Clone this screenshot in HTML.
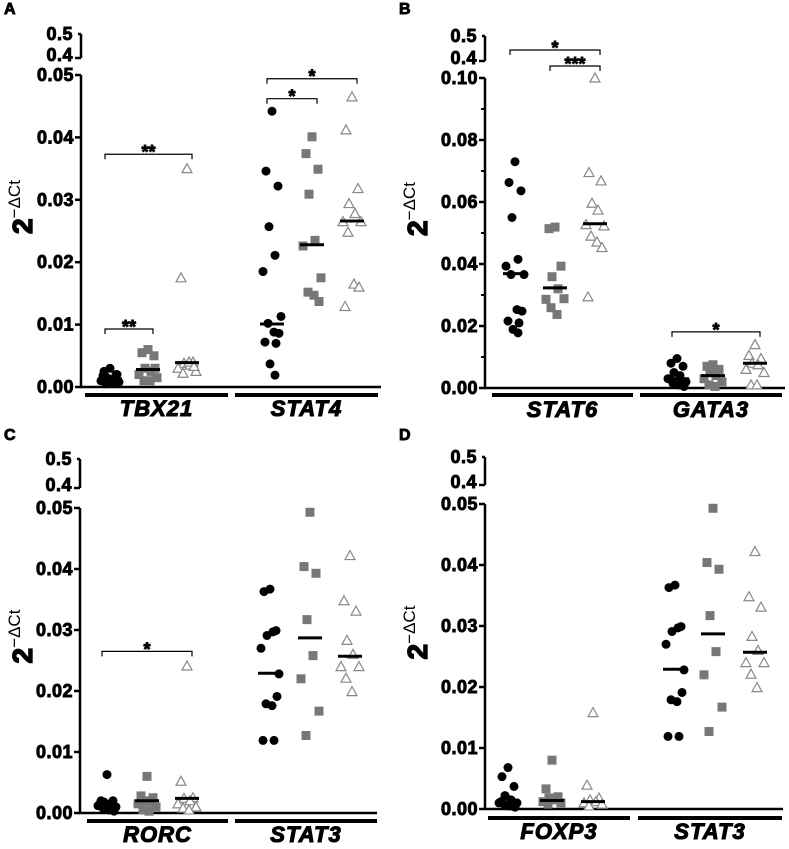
<!DOCTYPE html>
<html><head><meta charset="utf-8"><style>
html,body{margin:0;padding:0;background:#fff;}
svg{display:block;}
svg text{font-family:"Liberation Sans",Arial,sans-serif;}
</style></head><body>
<svg id="fig" width="789" height="849" viewBox="0 0 789 849" xmlns="http://www.w3.org/2000/svg"></svg>
<script>
// ---- data ----
const panelLetters = ['A','B','C','D'];
const genesA = ['TBX21','STAT4'];
const genesB = ['STAT6','GATA3'];
const genesC = ['RORC','STAT3'];
const genesD = ['FOXP3','STAT3'];
const ticksSmall = [0,0.01,0.02,0.03,0.04,0.05];
const ticksLabelsSmall = ['0.00','0.01','0.02','0.03','0.04','0.05'];
const ticksBig = [0,0.02,0.04,0.06,0.08,0.10];
const ticksLabelsBig = ['0.00','0.02','0.04','0.06','0.08','0.10'];
const breakTicks = [0.4,0.5];
const breakLabels = ['0.4','0.5'];

const tbx21Circ = [0.003,0.0025,0.002,0.0015,0.001,0.001,0.0008,0.0005,0.0012,0.002,0.0018,0.0006];
const tbx21Sq = [0.006,0.0055,0.005,0.003,0.0025,0.002,0.0015,0.001,0.001,0.003];
const tbx21Tri = [0.035,0.0175,0.004,0.0038,0.0035,0.003,0.0025,0.0022,0.004,0.0033];
const tbx21Med = [0.0013,0.0028,0.0039];
const stat4Circ = [0.0442,0.0346,0.0322,0.0257,0.0211,0.0185,0.0113,0.0102,0.0088,0.0086,0.0072,0.007,0.0037,0.0019];
const stat4Sq = [0.0401,0.0374,0.0349,0.0309,0.0235,0.0226,0.0175,0.0152,0.0147,0.0137];
const stat4Tri = [0.0465,0.0412,0.0318,0.0294,0.0278,0.0265,0.0265,0.0248,0.0165,0.016,0.0129];
const stat4Med = [0.0101,0.0228,0.0266];

const stat6Circ = [0.073,0.0663,0.0636,0.055,0.0415,0.0393,0.0366,0.0366,0.0253,0.0248,0.0216,0.021,0.0189,0.0178];
const stat6Sq = [0.0519,0.0514,0.0393,0.0359,0.032,0.0286,0.0288,0.0259,0.0237];
const stat6Tri = [0.1,0.0695,0.0668,0.0596,0.0574,0.0527,0.0523,0.049,0.0471,0.0453,0.0294];
const stat6Med = [0.0369,0.0323,0.053];
const gata3Circ = [0.0095,0.008,0.007,0.005,0.004,0.003,0.002,0.0015,0.001,0.0005,0.003,0.002];
const gata3Sq = [0.0075,0.007,0.006,0.005,0.004,0.003,0.002,0.001,0.0005];
const gata3Tri = [0.014,0.0105,0.0095,0.008,0.0075,0.006,0.005,0.001,0.001];
const gata3Med = [0.003,0.004,0.008];

const rorcCirc = [0.0063,0.002,0.002,0.0018,0.0015,0.0012,0.001,0.0008,0.0005,0.0003,0.0015];
const rorcSq = [0.006,0.0028,0.0025,0.002,0.0018,0.0015,0.001,0.0005,0.0003];
const rorcTri = [0.0241,0.0052,0.0025,0.0024,0.002,0.0015,0.001,0.0008,0.0005];
const rorcMed = [0.0013,0.002,0.0024];
const stat3Circ = [0.0367,0.0363,0.0299,0.0291,0.0297,0.027,0.0228,0.0179,0.0176,0.0191,0.0119,0.0119];
const stat3Sq = [0.0493,0.0404,0.0393,0.0317,0.0258,0.022,0.0167,0.0127];
const stat3Tri = [0.0422,0.0348,0.0331,0.0283,0.026,0.024,0.024,0.0221,0.0199];
const stat3Med = [0.0229,0.0287,0.0257];

const foxp3Circ = [0.0068,0.0053,0.0037,0.0022,0.0015,0.001,0.001,0.0008,0.0005,0.0003,0.0012];
const foxp3Sq = [0.008,0.0033,0.002,0.0018,0.0015,0.0012,0.001,0.0008];
const foxp3Tri = [0.0158,0.0039,0.0018,0.0015,0.0012,0.001,0.0008,0.0005];
const foxp3Med = [0.001,0.0014,0.0012];

// brackets: [groupIndex, fromSeries, toSeries, value, label]
const bracketsA = [[0,0,2,0.0373,'**'],[0,0,1,0.0093,'**'],[1,0,1,0.0462,'*'],[1,0,2,0.0494,'*']];
const bracketsB = [[0,0,2,0.444,'*'],[0,1,2,0.38,'***'],[1,0,2,0.0181,'*']];
const bracketsC = [[0,0,2,0.0265,'*']];
const bracketsD = [];

// ---- layout ----
const panels = [
 {letter:panelLetters[0],lx:4,ly:14,ax:81,y0:387,yTop:75,max:0.05,y04:58,y05:34,xEnd:381,barY:395,labY:416,
  ticks:ticksSmall,tickLabels:ticksLabelsSmall,minor:false,genes:genesA,
  bars:[[85,228],[235,378]],cx:[[110,148,187],[272,312,352]],
  series:[[tbx21Circ,tbx21Sq,tbx21Tri],[stat4Circ,stat4Sq,stat4Tri]],meds:[tbx21Med,stat4Med],brackets:bracketsA},
 {letter:panelLetters[1],lx:399,ly:14,ax:485,y0:388,yTop:78,max:0.1,y04:61,y05:36,xEnd:785,barY:395,labY:417,
  ticks:ticksBig,tickLabels:ticksLabelsBig,minor:true,genes:genesB,
  bars:[[492,633],[640,782]],cx:[[515,555,595],[677,713,755]],
  series:[[stat6Circ,stat6Sq,stat6Tri],[gata3Circ,gata3Sq,gata3Tri]],meds:[stat6Med,gata3Med],brackets:bracketsB},
 {letter:panelLetters[2],lx:4,ly:440,ax:80,y0:813,yTop:508,max:0.05,y04:488,y05:459,xEnd:377,barY:821,labY:842,
  ticks:ticksSmall,tickLabels:ticksLabelsSmall,minor:false,genes:genesC,
  bars:[[87,228],[235,377]],cx:[[107,147,187],[270,310,350]],
  series:[[rorcCirc,rorcSq,rorcTri],[stat3Circ,stat3Sq,stat3Tri]],meds:[rorcMed,stat3Med],brackets:bracketsC},
 {letter:panelLetters[3],lx:399,ly:440,ax:485,y0:809,yTop:504,max:0.05,y04:485,y05:457,xEnd:783,barY:818,labY:839,
  ticks:ticksSmall,tickLabels:ticksLabelsSmall,minor:false,genes:genesD,
  bars:[[488,630],[638,782]],cx:[[508,552,593],[675,713,755]],
  series:[[foxp3Circ,foxp3Sq,foxp3Tri],[stat3Circ,stat3Sq,stat3Tri]],meds:[foxp3Med,stat3Med],brackets:bracketsD}
];

const NS='http://www.w3.org/2000/svg';
const svg=document.getElementById('fig');
function mk(tag,attrs,parent){const e=document.createElementNS(NS,tag);for(const k in attrs)e.setAttribute(k,attrs[k]);(parent||svg).appendChild(e);return e;}
const jitter=[0,-6,6,-3,3,-9,9,-4,2,7,-7,4,-2,3];
const FB='font-family:"Liberation Sans",Arial,sans-serif;font-weight:700;stroke:#000;stroke-width:0.9px;';

panels.forEach((p,pi)=>{
  const g=mk('g',{});
  
  
  const yScale=v=> v>0.3 ? p.y04-(v-0.4)/0.1*(p.y04-p.y05) : p.y0-(v/p.max)*(p.y0-p.yTop);
  const t=mk('text',{x:p.lx,y:p.ly,style:FB+'font-size:16px'},g);t.textContent=p.letter;
  
  
  const ya=mk('g',{},g);
  
  
  mk('line',{x1:p.ax,y1:p.y0+1,x2:p.ax,y2:p.yTop,stroke:'#000','stroke-width':2.5},ya);
  mk('line',{x1:p.ax,y1:p.y04,x2:p.ax,y2:p.y05,stroke:'#000','stroke-width':2.5},ya);
  p.ticks.forEach((v,i)=>{
    const y=yScale(v);
    mk('line',{x1:p.ax-6,y1:y,x2:p.ax,y2:y,stroke:'#000','stroke-width':2.5},ya);
    const tl=mk('text',{x:p.ax-7,y:y+6,'text-anchor':'end',style:FB+'font-size:18px;letter-spacing:0.5px'},ya);
    tl.textContent=p.tickLabels[i];
    
    
  });
  if(p.minor){for(let k=1;k<p.ticks.length;k++){const v=(p.ticks[k]+p.ticks[k-1])/2;const y=yScale(v);mk('line',{x1:p.ax-4,y1:y,x2:p.ax,y2:y,stroke:'#000','stroke-width':2},ya);}}
  breakTicks.forEach((v,i)=>{
    const y=yScale(v);
    mk('line',{x1:p.ax-(i==0?6:3),y1:y,x2:p.ax,y2:y,stroke:'#000','stroke-width':2.5},ya);
    const tl=mk('text',{x:p.ax-8,y:y+(i==0?3:6),'text-anchor':'end',style:FB+'font-size:18px;letter-spacing:0.5px'},ya);
    tl.textContent=breakLabels[i];
    
    
  });
  const midY=(p.y0+p.yTop)/2-24;
  const tt=mk('text',{x:0,y:0,transform:`translate(${p.lx+28},${midY}) rotate(-90)`,'text-anchor':'middle'},g);
  
  
  const s1=mk('tspan',{style:FB+'font-size:28px;stroke-width:1.4px'},tt);s1.textContent='2';
  const s2=mk('tspan',{dy:-12,style:'font-family:"Liberation Sans",Arial,sans-serif;font-size:17px'},tt);s2.textContent='−ΔCt';
  const xa=mk('line',{x1:p.ax-1,y1:p.y0,x2:p.xEnd,y2:p.y0,stroke:'#000','stroke-width':2.5},g);
  
  
  p.genes.forEach((gn,gi)=>{
    const b=p.bars[gi];
    const bl=mk('line',{x1:b[0],y1:p.barY,x2:b[1],y2:p.barY,stroke:'#000','stroke-width':4},g);
    
    
    const lt=mk('text',{x:(b[0]+b[1])/2,y:p.labY,'text-anchor':'middle',style:FB+'font-style:italic;font-size:22px;letter-spacing:1px;stroke-width:1.1px'},g);
    lt.textContent=gn;
    
    
    p.series[gi].forEach((arr,si)=>{
      const cx=p.cx[gi][si];
      arr.forEach((v,i)=>{
        const x=cx+jitter[i%jitter.length];const y=yScale(v);let m;
        if(si==0){m=mk('circle',{cx:x,cy:y,r:4.5,fill:'#000'},g);}
        else if(si==1){m=mk('rect',{x:x-4.5,y:y-4.5,width:9,height:9,fill:'#777'},g);}
        else {m=mk('polygon',{points:`${x},${y-5} ${x-5},${y+4} ${x+5},${y+4}`,fill:'#fff',stroke:'#888','stroke-width':1.2},g);}
        
      });
      const my=yScale(p.meds[gi][si]);
      const ml=mk('line',{x1:cx-12,y1:my,x2:cx+12,y2:my,stroke:'#000','stroke-width':3},g);
      
      
    });
  });
  p.brackets.forEach(br=>{
    const x1=p.cx[br[0]][br[1]]-5,x2=p.cx[br[0]][br[2]]+5,y=yScale(br[3]);
    const bg=mk('g',{},g);
    
    
    mk('path',{d:`M${x1},${y+5}V${y}H${x2}V${y+5}`,fill:'none',stroke:'#000','stroke-width':1.2},bg);
    const st=mk('text',{x:(x1+x2)/2,y:y+4,'text-anchor':'middle',style:FB+'font-size:18px'},bg);
    st.textContent=br[4];
  });
});
</script>
</body></html>
